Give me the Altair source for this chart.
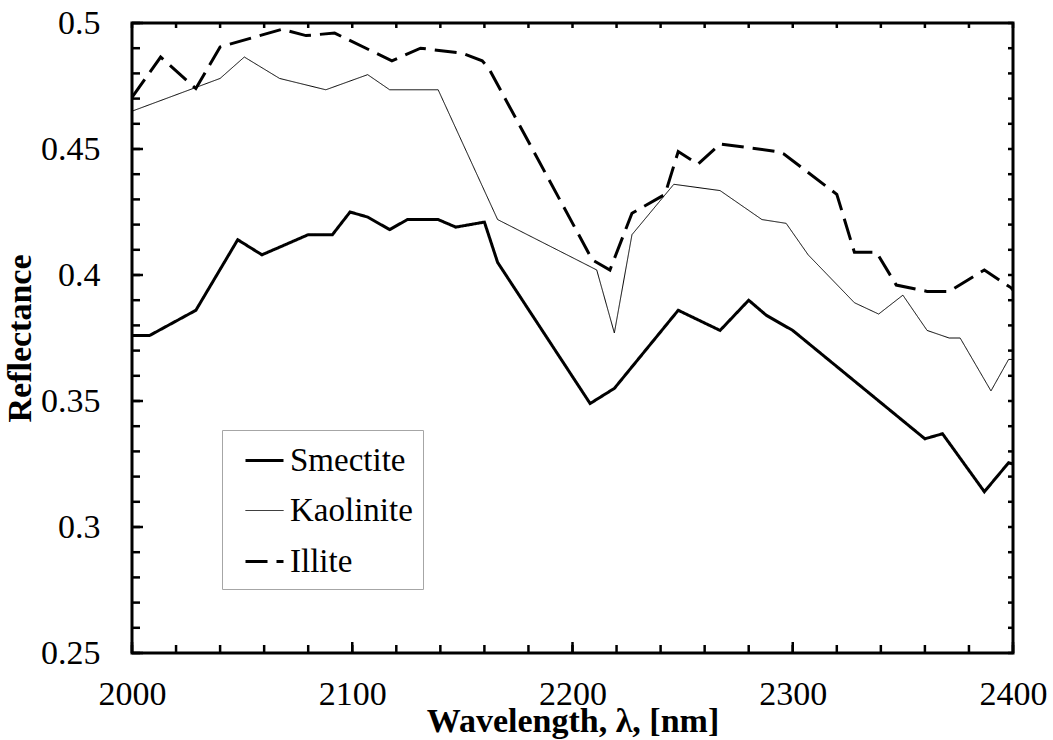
import altair as alt
import pandas as pd

series_order = ["Smectite", "Kaolinite", "Illite"]

smectite_wl = [2000, 2008, 2029, 2048, 2059, 2080, 2091, 2099, 2107, 2117, 2125, 2139, 2147,
               2160, 2166, 2208, 2219, 2248, 2267, 2280, 2288, 2300, 2360, 2368, 2387, 2398, 2400]
smectite_r = [0.376, 0.376, 0.386, 0.414, 0.408, 0.416, 0.416, 0.425, 0.423, 0.418, 0.422, 0.422, 0.419,
              0.421, 0.405, 0.349, 0.355, 0.386, 0.378, 0.390, 0.384, 0.378, 0.335, 0.337, 0.314, 0.3255, 0.325]

kaolinite_wl = [2000, 2040, 2051, 2067, 2088, 2107, 2117, 2139, 2166, 2211, 2219, 2227, 2246,
                2267, 2286, 2297, 2307, 2328, 2339, 2350, 2361, 2371, 2376, 2390, 2398, 2400]
kaolinite_r = [0.465, 0.478, 0.4865, 0.478, 0.4735, 0.4795, 0.4735, 0.4735, 0.422, 0.402, 0.377, 0.416, 0.436,
               0.4335, 0.422, 0.4205, 0.408, 0.389, 0.3845, 0.392, 0.378, 0.375, 0.375, 0.354, 0.3665, 0.3665]

illite_wl = [2000, 2013, 2029, 2040, 2068, 2079, 2092, 2118, 2131, 2150, 2159, 2162, 2209, 2217, 2227,
             2242, 2248, 2257, 2267, 2293, 2296, 2320, 2328, 2338, 2347, 2361, 2371, 2387, 2399, 2400]
illite_r = [0.4705, 0.4865, 0.474, 0.4905, 0.4975, 0.495, 0.496, 0.485, 0.490, 0.488, 0.485, 0.482, 0.406, 0.402, 0.4245,
            0.432, 0.449, 0.444, 0.452, 0.449, 0.448, 0.432, 0.409, 0.409, 0.396, 0.3935, 0.3935, 0.402, 0.395, 0.394]

x_major = [2000, 2100, 2200, 2300, 2400]
x_minor = list(range(2000, 2401, 20))
y_major = [0.25, 0.3, 0.35, 0.4, 0.45, 0.5]
y_minor = [round(0.25 + 0.01 * i, 2) for i in range(26)]

rows = []
for name, wl, r in [("Smectite", smectite_wl, smectite_r),
                    ("Kaolinite", kaolinite_wl, kaolinite_r),
                    ("Illite", illite_wl, illite_r)]:
    for i, (w, v) in enumerate(zip(wl, r)):
        rows.append({"series": name, "wl": w, "r": v, "order": i})
df = pd.DataFrame(rows)

xs = alt.Scale(domain=[2000, 2400], nice=False, zero=False)
ys = alt.Scale(domain=[0.25, 0.5], nice=False, zero=False)

FONT = "Liberation Serif, Times New Roman, Tinos, DejaVu Serif, serif"

x_axis = alt.Axis(orient="bottom", values=x_major, format="d", ticks=False, tickSize=0,
                  domain=False, grid=False, labelPadding=24, labelFlush=False,
                  title="Wavelength, λ, [nm]", titlePadding=-7, titleFontSize=34)
y_axis = alt.Axis(orient="left", values=y_major, format="~g", ticks=False, tickSize=0,
                  domain=False, grid=False, labelPadding=32, labelFlush=False,
                  title="Reflectance", titlePadding=3)

legend = alt.Legend(title=None)

lines = alt.Chart(df).mark_line(color="black").encode(
    x=alt.X("wl:Q", scale=xs, axis=x_axis),
    y=alt.Y("r:Q", scale=ys, axis=y_axis),
    order="order:Q",
    strokeWidth=alt.StrokeWidth("series:N",
                                scale=alt.Scale(type="ordinal", domain=series_order, range=[3, 1, 3]),
                                legend=legend),
    strokeDash=alt.StrokeDash("series:N",
                              scale=alt.Scale(domain=series_order, range=[[1, 0], [1, 0], [22, 9]]),
                              legend=legend),
)

xmin_df = pd.DataFrame({"v": x_minor})
xmaj_df = pd.DataFrame({"v": x_major})
ymin_df = pd.DataFrame({"v": y_minor})
ymaj_df = pd.DataFrame({"v": y_major})


def xticks(data, y_a, y_b):
    return alt.Chart(data).mark_rule(color="black", strokeWidth=2.5).encode(
        x=alt.X("v:Q", scale=xs, axis=x_axis),
        y=alt.value(y_a), y2=alt.value(y_b),
    )


def yticks(data, x_a, x_b):
    return alt.Chart(data).mark_rule(color="black", strokeWidth=2.5).encode(
        y=alt.Y("v:Q", scale=ys, axis=y_axis),
        x=alt.value(x_a), x2=alt.value(x_b),
    )


bottom_minor = xticks(xmin_df, {"expr": "height"}, {"expr": "height - 8"})
bottom_major = xticks(xmaj_df, {"expr": "height"}, {"expr": "height - 11"})
top_minor = xticks(xmin_df, 0, 5)
left_minor = yticks(ymin_df, 0, 8)
left_major = yticks(ymaj_df, 0, 11)
right_minor = yticks(ymin_df, {"expr": "width"}, {"expr": "width - 5"})

chart = alt.layer(
    lines, bottom_minor, bottom_major, top_minor, left_minor, left_major, right_minor
).properties(
    width=881, height=630,
    autosize=alt.AutoSizeParams(type="none"),
    padding={"left": 132, "top": 23, "right": 40, "bottom": 87},
    background="white",
).configure_view(
    stroke="black", strokeWidth=3
).configure_axis(
    labelFont=FONT, labelFontSize=34, labelColor="black",
    titleFont=FONT, titleFontSize=34, titleFontWeight="bold", titleColor="black",
).configure_legend(
    orient="none", legendX=90, legendY=407,
    padding=10, fillColor="white", strokeColor="#a6a6a6", strokeWidth=1,
    labelFont=FONT, labelFontSize=33, labelColor="black",
    rowPadding=13, symbolType="stroke", symbolSize=1444, symbolStrokeColor="black",
    symbolOffset=12, labelOffset=5, labelLimit=400,
)

chart.save("out.html", embed_options={"renderer": "svg", "actions": False})
